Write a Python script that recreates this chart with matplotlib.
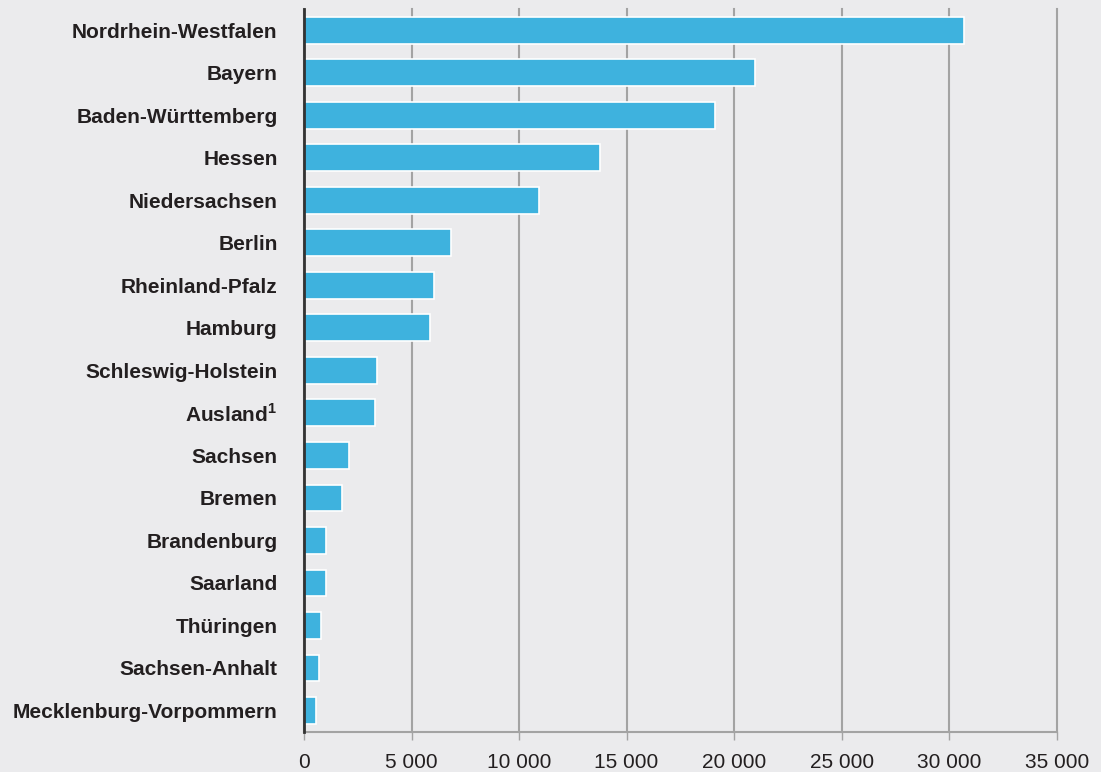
#!/usr/bin/env python3
"""Horizontal bar chart: Bundesländer."""

import matplotlib.pyplot as plt
from matplotlib.ticker import FuncFormatter

plt.rcParams['font.family'] = ['Liberation Sans', 'DejaVu Sans']
plt.rcParams['mathtext.fontset'] = 'custom'
plt.rcParams['mathtext.bf'] = 'Liberation Sans:bold'
plt.rcParams['mathtext.rm'] = 'Liberation Sans'

# Data
laender = ['Nordrhein-Westfalen', 'Bayern', 'Baden-Württemberg', 'Hessen',
           'Niedersachsen', 'Berlin', 'Rheinland-Pfalz', 'Hamburg',
           'Schleswig-Holstein', r'Ausland$^{\mathbf{1}}$', 'Sachsen', 'Bremen',
           'Brandenburg', 'Saarland', 'Thüringen', 'Sachsen-Anhalt',
           'Mecklenburg-Vorpommern']
werte = [30675, 20957, 19111, 13778, 10927, 6835, 6060, 5843,
         3410, 3286, 2092, 1782, 1023, 1037, 790, 697, 543]
xticks = [0, 5000, 10000, 15000, 20000, 25000, 30000, 35000]

bg = '#ebebed'
bar_color = '#3eb2de'
grid_color = '#a3a3a3'
text_color = '#231f20'

fig = plt.figure(figsize=(11.01, 7.72), dpi=100, facecolor=bg)
ax = fig.add_axes([0.2761, 0.0522, 0.9598 - 0.2761, 0.9883 - 0.0522])
ax.set_facecolor(bg)

ypos = list(range(len(laender)))
ax.barh(ypos, werte, height=0.63, color=bar_color, edgecolor='white',
        linewidth=1.2, zorder=2)

ax.set_ylim(len(laender) - 0.5, -0.5)
ax.set_xlim(0, 35000)
ax.set_yticks(ypos)
ax.set_yticklabels(laender, fontsize=15, fontweight='bold', color=text_color)
ax.tick_params(axis='y', length=0, pad=19)

ax.set_xticks(xticks)
ax.xaxis.set_major_formatter(FuncFormatter(lambda v, p: f'{int(v):,}'.replace(',', ' ')))
ax.tick_params(axis='x', length=6, width=1, color=grid_color, labelsize=15,
               labelcolor=text_color, pad=9)

ax.grid(axis='x', color=grid_color, linewidth=1.5, zorder=0)
ax.set_axisbelow(True)
for gl in ax.get_xgridlines():
    gl.set_clip_on(False)

for s in ['top', 'right']:
    ax.spines[s].set_visible(False)
ax.spines['left'].set_color('#333333')
ax.spines['left'].set_linewidth(2)
ax.spines['left'].set_zorder(3)
ax.spines['bottom'].set_color(grid_color)
ax.spines['bottom'].set_linewidth(1.5)

fig.savefig('out.png', dpi=100, facecolor=bg)
